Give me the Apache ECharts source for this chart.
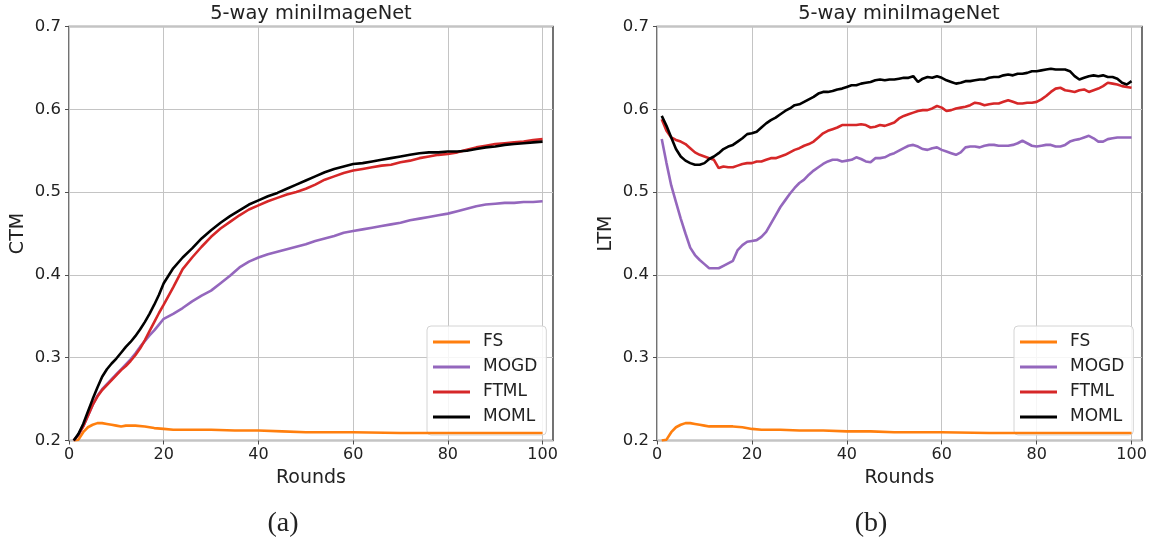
<!DOCTYPE html>
<html>
<head>
<meta charset="utf-8">
<script src="https://cdn.jsdelivr.net/npm/echarts@6/dist/echarts.min.js"></script>
<style>
html,body{margin:0;padding:0;background:#fff;}
#chart{width:1155px;height:544px;}
</style>
</head>
<body>
<div id="chart"></div>
<script>
// ---------- data ----------
const seriesNames = ['FS', 'MOGD', 'FTML', 'MOML'];
const xTicks = [0, 20, 40, 60, 80, 100];
const yTicks = [0.2, 0.3, 0.4, 0.5, 0.6, 0.7];

// Panel (a): CTM
const roundsA = [1,2,3,4,5,6,7,8,9,10,11,12,13,14,15,16,17,18,19,20,
  22,24,26,28,30,32,34,36,38,40,42,44,46,48,50,52,54,56,58,60,
  62,64,66,68,70,72,74,76,78,80,82,84,86,88,90,92,94,96,98,100];
const ctmMOML = [0.200,0.208,0.220,0.235,0.250,0.264,0.277,0.286,0.293,0.299,
  0.306,0.313,0.319,0.326,0.334,0.343,0.353,0.364,0.376,0.390,
  0.408,0.421,0.432,0.444,0.454,0.463,0.471,0.478,0.485,0.490,
  0.495,0.499,0.504,0.509,0.514,0.519,0.524,0.528,0.531,0.534,
  0.535,0.537,0.539,0.541,0.543,0.545,0.547,0.548,0.548,0.549,
  0.549,0.550,0.552,0.554,0.555,0.557,0.558,0.559,0.560,0.561];
const ctmFTML = [0.200,0.207,0.217,0.230,0.243,0.253,0.261,0.267,0.273,0.279,
  0.285,0.290,0.296,0.303,0.311,0.321,0.332,0.343,0.354,0.364,
  0.385,0.407,0.421,0.434,0.446,0.456,0.464,0.472,0.479,0.484,
  0.489,0.493,0.497,0.500,0.504,0.509,0.515,0.519,0.523,0.526,
  0.528,0.530,0.532,0.533,0.536,0.538,0.541,0.543,0.545,0.546,
  0.548,0.551,0.554,0.556,0.558,0.559,0.560,0.561,0.563,0.564];
const ctmMOGD = [0.200,0.207,0.217,0.230,0.243,0.254,0.262,0.268,0.274,0.280,
  0.286,0.292,0.298,0.305,0.313,0.320,0.327,0.333,0.340,0.347,
  0.353,0.360,0.368,0.375,0.381,0.390,0.399,0.409,0.416,0.421,
  0.425,0.428,0.431,0.434,0.437,0.441,0.444,0.447,0.451,0.453,
  0.455,0.457,0.459,0.461,0.463,0.466,0.468,0.470,0.472,0.474,
  0.477,0.480,0.483,0.485,0.486,0.487,0.487,0.488,0.488,0.489];
const roundsFS = [1,2,3,4,5,6,7,8,9,10,11,12,14,16,18,20,22,24,26,30,35,40,45,50,60,70,80,90,100];
const ctmFS = [0.200,0.201,0.210,0.216,0.219,0.221,0.221,0.220,0.219,0.218,
  0.217,0.218,0.218,0.217,0.215,0.214,0.213,0.213,0.213,0.213,
  0.212,0.212,0.211,0.210,0.210,0.209,0.209,0.209,0.209];

// Panel (b): LTM
const roundsB = [];
for (let r = 1; r <= 100; r++) roundsB.push(r);
const ltmMOML = [0.592,0.580,0.566,0.552,0.543,0.538,0.535,0.533,0.533,0.535,
  0.540,0.543,0.547,0.552,0.555,0.557,0.561,0.565,0.570,0.571,
  0.573,0.578,0.583,0.587,0.590,0.594,0.598,0.601,0.605,0.606,
  0.609,0.612,0.615,0.619,0.621,0.621,0.622,0.624,0.625,0.627,
  0.629,0.629,0.631,0.632,0.633,0.635,0.636,0.635,0.636,0.636,
  0.637,0.638,0.638,0.640,0.633,0.637,0.639,0.638,0.640,0.638,
  0.635,0.633,0.631,0.632,0.634,0.634,0.635,0.636,0.636,0.638,
  0.639,0.639,0.641,0.642,0.641,0.643,0.643,0.644,0.646,0.646,
  0.647,0.648,0.649,0.648,0.648,0.648,0.646,0.640,0.636,0.638,
  0.640,0.641,0.640,0.641,0.639,0.639,0.637,0.632,0.630,0.634];
const ltmFTML = [0.588,0.574,0.566,0.563,0.561,0.558,0.553,0.548,0.545,0.543,
  0.541,0.539,0.529,0.531,0.530,0.530,0.532,0.534,0.535,0.535,
  0.537,0.537,0.539,0.541,0.541,0.543,0.545,0.548,0.551,0.553,
  0.556,0.558,0.561,0.566,0.571,0.574,0.576,0.578,0.581,0.581,
  0.581,0.581,0.582,0.581,0.578,0.579,0.581,0.580,0.582,0.584,
  0.589,0.592,0.594,0.596,0.598,0.599,0.599,0.601,0.604,0.602,
  0.598,0.599,0.601,0.602,0.603,0.605,0.608,0.607,0.605,0.606,
  0.607,0.607,0.609,0.611,0.609,0.607,0.607,0.608,0.608,0.609,
  0.612,0.616,0.621,0.625,0.626,0.623,0.622,0.621,0.623,0.624,
  0.621,0.623,0.625,0.628,0.632,0.631,0.630,0.628,0.627,0.626];
const ltmMOGD = [0.564,0.535,0.508,0.488,0.468,0.450,0.433,0.424,0.418,0.413,
  0.408,0.408,0.408,0.411,0.414,0.417,0.430,0.436,0.440,0.441,
  0.442,0.446,0.452,0.462,0.472,0.482,0.490,0.498,0.505,0.511,
  0.515,0.521,0.526,0.530,0.534,0.537,0.539,0.539,0.537,0.538,
  0.539,0.542,0.540,0.537,0.536,0.541,0.541,0.542,0.545,0.547,
  0.550,0.553,0.556,0.557,0.555,0.552,0.551,0.553,0.554,0.551,
  0.549,0.547,0.545,0.548,0.554,0.555,0.555,0.554,0.556,0.557,
  0.557,0.556,0.556,0.556,0.557,0.559,0.562,0.559,0.556,0.555,
  0.556,0.557,0.557,0.555,0.555,0.557,0.561,0.563,0.564,0.566,
  0.568,0.565,0.561,0.561,0.564,0.565,0.566,0.566,0.566,0.566];
const ltmFS = [0.200,0.201,0.210,0.216,0.219,0.221,0.221,0.220,0.219,0.218,
  0.217,0.217,0.217,0.217,0.216,0.214,0.213,0.213,0.213,0.212,
  0.212,0.211,0.211,0.210,0.210,0.209,0.209,0.209,0.209];

// ---------- chart ----------
const colors = { FS: '#ff7f0e', MOGD: '#9467bd', FTML: '#d62728', MOML: '#000000' };
const FONT = 'DejaVu Sans';
const TXT = '#222';

function pairs(xs, ys) { return xs.map((x, i) => [x, ys[i]]); }

function mkSeries(name, idx, xs, ys) {
  return {
    name: name, type: 'line', xAxisIndex: idx, yAxisIndex: idx,
    data: pairs(xs, ys), showSymbol: false, symbol: 'none', z: 3,
    lineStyle: { color: colors[name], width: 2.6 }, itemStyle: { color: colors[name] },
    animation: false, clip: true
  };
}

function mkX(idx) {
  return {
    type: 'value', gridIndex: idx, min: 0, max: 102.2, interval: 20,
    name: 'Rounds', nameLocation: 'middle', nameGap: 28,
    nameTextStyle: { fontFamily: FONT, fontSize: 19, color: TXT },
    axisLine: { show: false },
    axisTick: { show: true, length: 4, lineStyle: { color: '#505050' }, customValues: xTicks },
    axisLabel: { fontFamily: FONT, fontSize: 16, color: TXT, margin: 6, customValues: xTicks,
      formatter: v => String(v) },
    splitLine: { show: true, lineStyle: { color: '#c4c4c4', width: 1 } }
  };
}
function mkY(idx, name) {
  return {
    type: 'value', gridIndex: idx, min: 0.2, max: 0.7, interval: 0.1,
    name: name, nameLocation: 'middle', nameGap: 41,
    nameTextStyle: { fontFamily: FONT, fontSize: 19, color: TXT },
    axisLine: { show: false },
    axisTick: { show: true, length: 4, lineStyle: { color: '#505050' } },
    axisLabel: { fontFamily: FONT, fontSize: 16.5, color: TXT, margin: 8,
      formatter: v => v.toFixed(1) },
    splitLine: { show: true, lineStyle: { color: '#c4c4c4', width: 1 } }
  };
}
function mkLegend(left) {
  return {
    data: seriesNames, orient: 'vertical', left: left, top: 326, z: 2,
    icon: 'rect', itemWidth: 37, itemHeight: 3, itemGap: 5,
    padding: [6, 9, 8, 6],
    borderColor: '#d4d4d4', borderWidth: 1, borderRadius: 4,
    backgroundColor: 'rgba(255,255,255,0.85)',
    textStyle: { fontFamily: FONT, fontSize: 17, color: TXT, lineHeight: 20, padding: [0, 0, 0, 8] }
  };
}

const option = {
  backgroundColor: '#fff',
  animation: false,
  grid: [
    { left: 69, top: 26.5, width: 484, height: 414, show: true, borderColor: '#505050', borderWidth: 1.6, backgroundColor: 'transparent' },
    { left: 657, top: 26.5, width: 485, height: 414, show: true, borderColor: '#505050', borderWidth: 1.6, backgroundColor: 'transparent' }
  ],
  xAxis: [mkX(0), mkX(1)],
  yAxis: [mkY(0, 'CTM'), mkY(1, 'LTM')],
  legend: [mkLegend(427), mkLegend(1014)],
  series: [
    mkSeries('FS', 0, roundsFS, ctmFS),
    mkSeries('MOGD', 0, roundsA, ctmMOGD),
    mkSeries('FTML', 0, roundsA, ctmFTML),
    mkSeries('MOML', 0, roundsA, ctmMOML),
    mkSeries('FS', 1, roundsFS, ltmFS),
    mkSeries('MOGD', 1, roundsB, ltmMOGD),
    mkSeries('FTML', 1, roundsB, ltmFTML),
    mkSeries('MOML', 1, roundsB, ltmMOML)
  ],
  graphic: [
    { type: 'text', x: 311, y: 14, style: { text: '5-way miniImageNet', fontFamily: FONT, fontSize: 19.4, fill: TXT, align: 'center', verticalAlign: 'middle' } },
    { type: 'text', x: 899, y: 14, style: { text: '5-way miniImageNet', fontFamily: FONT, fontSize: 19.4, fill: TXT, align: 'center', verticalAlign: 'middle' } },
    { type: 'text', x: 283, y: 524, style: { text: '(a)', fontFamily: 'Liberation Serif', fontSize: 28, fill: TXT, align: 'center', verticalAlign: 'middle' } },
    { type: 'text', x: 871, y: 524, style: { text: '(b)', fontFamily: 'Liberation Serif', fontSize: 28, fill: TXT, align: 'center', verticalAlign: 'middle' } }
  ]
};

const chart = echarts.init(document.getElementById('chart'), null, { renderer: 'canvas' });
chart.setOption(option);
</script>
</body>
</html>
